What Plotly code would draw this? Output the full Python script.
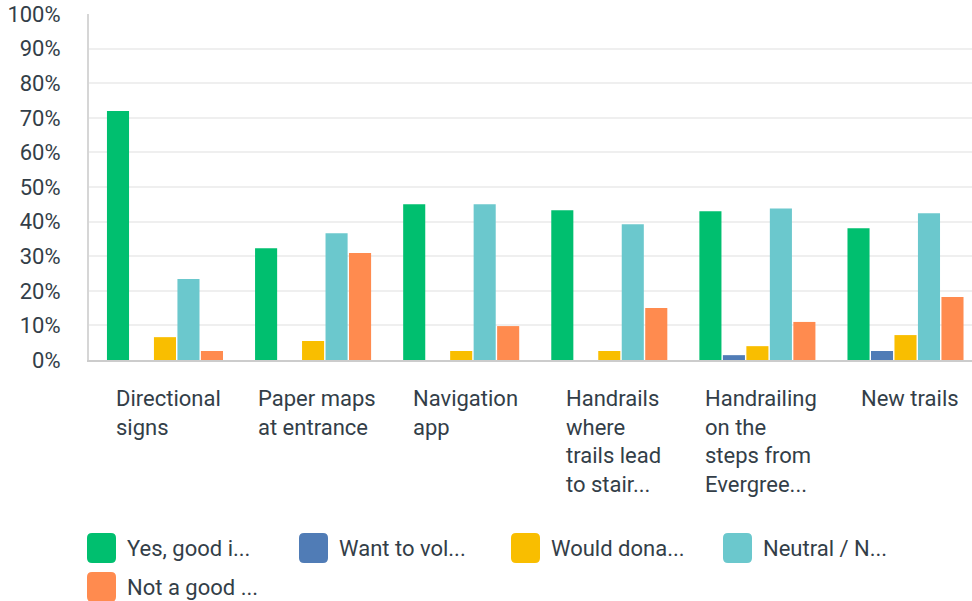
import plotly.graph_objects as go

categories = ["Directional signs", "Paper maps at entrance", "Navigation app",
              "Handrails where trails lead to stair...",
              "Handrailing on the steps from Evergree...", "New trails"]
category_labels = ["Directional<br>signs", "Paper maps<br>at entrance", "Navigation<br>app",
                   "Handrails<br>where<br>trails lead<br>to stair...",
                   "Handrailing<br>on the<br>steps from<br>Evergree...", "New trails"]
series_names = ["Yes, good i...", "Want to vol...", "Would dona...", "Neutral / N...", "Not a good ..."]
series_colors = ["#00bf6f", "#507cb6", "#f9be00", "#6bc8cd", "#ff8b4f"]

yes_good = [72.0, 32.3, 45.0, 43.3, 43.0, 38.1]
want_volunteer = [0.0, 0.0, 0.0, 0.0, 1.4, 2.6]
would_donate = [6.6, 5.5, 2.6, 2.6, 4.0, 7.2]
neutral = [23.4, 36.6, 45.0, 39.2, 43.8, 42.4]
not_good = [2.6, 30.9, 9.8, 15.0, 11.0, 18.2]
series_values = [yes_good, want_volunteer, would_donate, neutral, not_good]

y_ticks = list(range(0, 101, 10))
y_tick_labels = [f"{v}%" for v in y_ticks]

FONT = "Roboto"
TEXT = "#333e48"

W, H = 972, 601
plot_left, plot_top, plot_w, plot_h = 89, 14, 883.0, 346.0
plot_bottom = plot_top + plot_h

fig = go.Figure()
for name, color, vals in zip(series_names, series_colors, series_values):
    fig.add_trace(go.Bar(x=categories, y=vals, name=name, marker_color=color,
                         marker_line_width=0, showlegend=False))

# category labels (block centred, lines left-aligned)
annotations = []
for cat, lab in zip(categories, category_labels):
    annotations.append(dict(x=cat, y=0, xref="x", yref="paper", text=lab,
                            showarrow=False, xanchor="center", yanchor="top",
                            align="left", xshift=4, yshift=-24,
                            font=dict(family=FONT, size=22, color=TEXT)))

# custom legend (rounded swatches), positions in page pixels
legend_pos = [(87, 548), (299, 548), (511, 548), (723, 548), (87, 587)]
shapes = []
sw, sh, r = 29, 30, 5
hw, hh = sw / 2, sh / 2
path = (f"M {-hw + r},{-hh} L {hw - r},{-hh} Q {hw},{-hh} {hw},{-hh + r} "
        f"L {hw},{hh - r} Q {hw},{hh} {hw - r},{hh} L {-hw + r},{hh} "
        f"Q {-hw},{hh} {-hw},{hh - r} L {-hw},{-hh + r} Q {-hw},{-hh} {-hw + r},{-hh} Z")
for (px, py), name, color in zip(legend_pos, series_names, series_colors):
    cx = (px + hw - plot_left) / plot_w
    cy = (plot_bottom - py) / plot_h
    shapes.append(dict(type="path", xref="paper", yref="paper", xsizemode="pixel",
                       ysizemode="pixel", xanchor=cx, yanchor=cy, path=path,
                       fillcolor=color, line=dict(width=0), layer="above"))
    annotations.append(dict(x=0, y=0, xref="paper", yref="paper", text=name,
                            showarrow=False, xanchor="left", yanchor="middle",
                            xshift=px + 38 - plot_left, yshift=plot_bottom - py,
                            font=dict(family=FONT, size=22, color=TEXT)))

fig.update_layout(
    width=W, height=H,
    margin=dict(l=plot_left, r=0, t=plot_top, b=H - plot_bottom),
    paper_bgcolor="white", plot_bgcolor="white",
    barmode="group", bargap=0.207, bargroupgap=0.06,
    font=dict(family=FONT, size=22, color=TEXT),
    annotations=annotations, shapes=shapes,
    showlegend=False,
)
fig.update_xaxes(showticklabels=False, showgrid=False, showline=True,
                 linecolor="#cccccc", linewidth=2, ticks="", zeroline=False,
                 automargin=False, range=[-0.513, 5.449])
fig.update_yaxes(range=[0, 100], tickvals=y_ticks, ticktext=y_tick_labels,
                 showgrid=True, gridcolor="#efefef", gridwidth=2,
                 showline=True, linecolor="#d6d6d6", linewidth=2,
                 zeroline=False, ticks="", ticklabelstandoff=22,
                 automargin=False, ticklabeloverflow="allow",
                 tickfont=dict(family=FONT, size=22, color=TEXT))

fig.write_html("out.html",
               config={"displayModeBar": False},
               post_script="document.body.style.margin='0px';")
